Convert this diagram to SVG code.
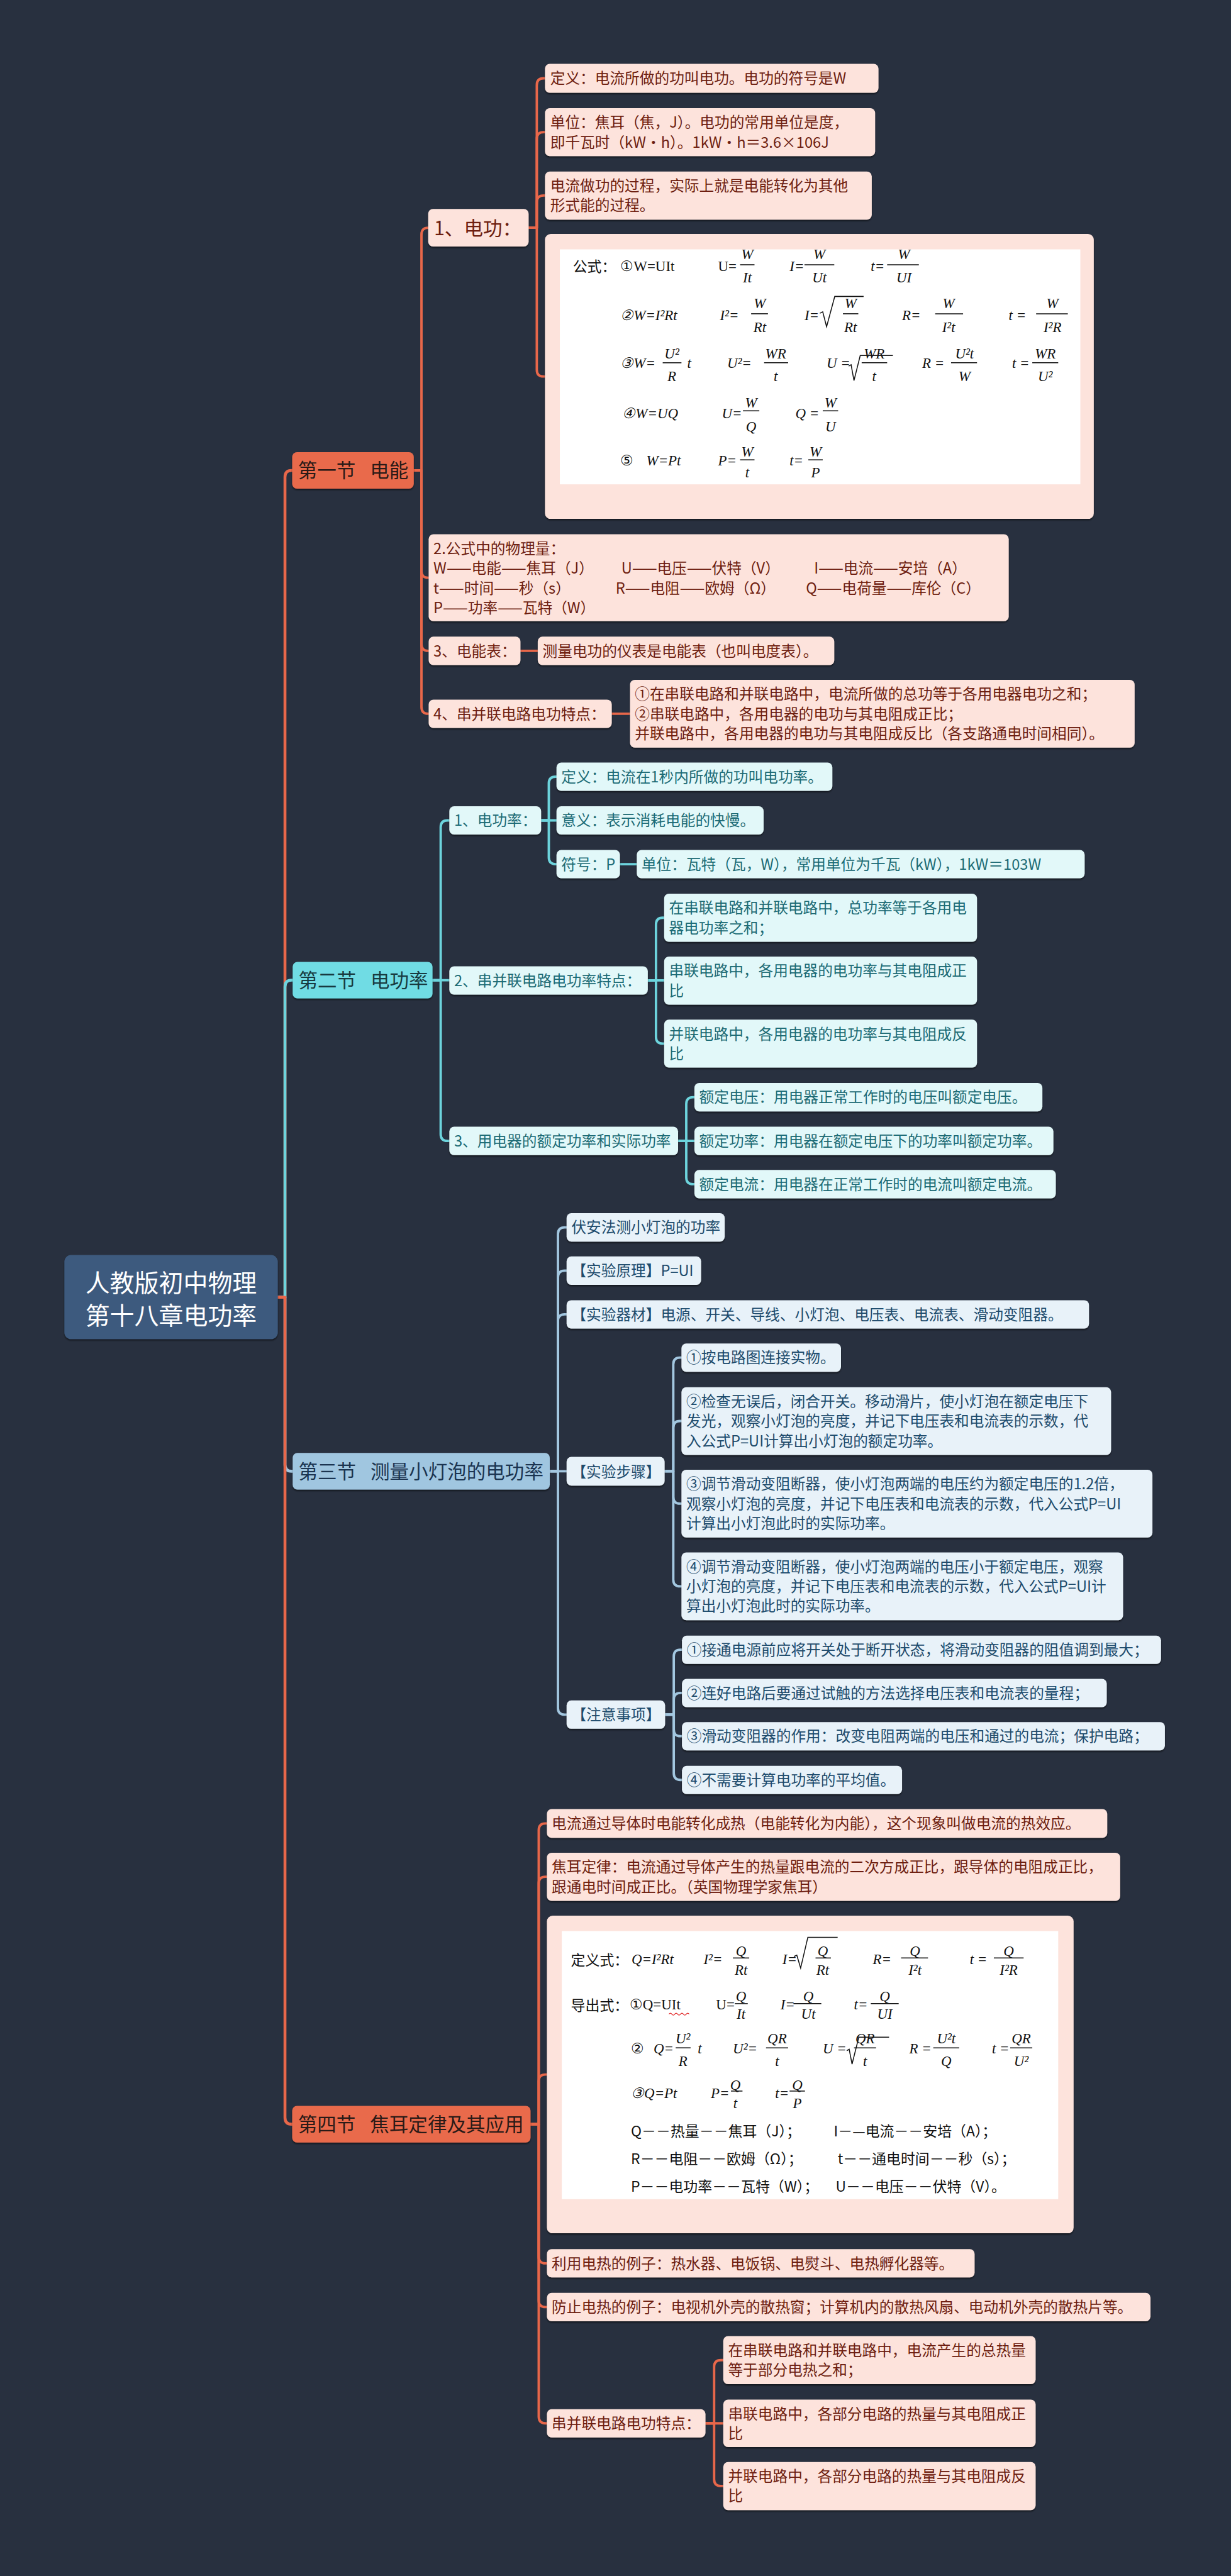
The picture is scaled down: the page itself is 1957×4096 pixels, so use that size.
<svg xmlns="http://www.w3.org/2000/svg" width="1957" height="4096" viewBox="0 0 1957 4096">
<defs>
<filter id="sh" x="-5%" y="-20%" width="110%" height="150%"><feDropShadow dx="0" dy="3" stdDeviation="1.5" flood-color="#000" flood-opacity="0.5"/></filter>
<style>
text{font-family:'Noto Sans CJK SC','Noto Sans',sans-serif}
.t{font-size:31px}
.h{font-size:40px}
.ro{fill:#fde3dc;filter:url(#sh)} .to{fill:#6e1e10}
.rc{fill:#e2f8f9;filter:url(#sh)} .tc{fill:#1c6b75}
.rb{fill:#e8f2f9;filter:url(#sh)} .tb{fill:#1d4b6c}
.rso{fill:#e96a4c;filter:url(#sh)} .tso{fill:#2a1a17}
.rsc{fill:#6fdce4;filter:url(#sh)} .tsc{fill:#183a40}
.rsb{fill:#a0c6e0;filter:url(#sh)} .tsb{fill:#1b3450}
.lo{stroke:#e8674a} .lc{stroke:#6dd4dd} .lb{stroke:#a3c7e0}
#connectors path{fill:none;stroke-width:5;stroke-linecap:round;stroke-linejoin:round}
#connectors path.m{stroke-width:6}
.img{fill:#ffffff}
text.f{font-family:'Liberation Serif',serif;font-size:30px;font-style:italic;fill:#111}
text.fu{font-style:normal}
text.fm{text-anchor:middle}
.fl{stroke:#111;stroke-width:2;fill:none}
text.fc{font-size:30px;fill:#111}
</style>
</defs>
<rect width="1957" height="4096" fill="#28303f"/>
<g transform="scale(0.764)">
<g id="connectors">
<path class="lo m" d="M578 2700 H593 V993 Q593 979 607 979 H609"/>
<path class="lo" d="M861 979 H877 V488 Q877 474 891 474"/>
<path class="lo" d="M861 979 H877 V1188.5 Q877 1202.5 891 1202.5 H892"/>
<path class="lo" d="M861 979 H877 V1340.5 Q877 1354.5 891 1354.5 H892"/>
<path class="lo" d="M861 979 H877 V1471.5 Q877 1485.5 891 1485.5 H892"/>
<path class="lo" d="M1100 474 H1117 V177 Q1117 163 1131 163 H1134"/>
<path class="lo" d="M1100 474 H1117 V289 Q1117 275 1131 275 H1134"/>
<path class="lo" d="M1100 474 H1117 V421 Q1117 407 1131 407 H1134"/>
<path class="lo" d="M1100 474 H1117 V769.5 Q1117 783.5 1131 783.5 H1134"/>
<path class="lo" d="M1083 1354.5 H1119"/>
<path class="lo" d="M1273 1485.5 H1311"/>
<path class="lc m" d="M578 2700 H593 V2054 Q593 2040 607 2040 H609"/>
<path class="lc" d="M900 2040 H917 V1721.5 Q917 1707.5 931 1707.5 H935"/>
<path class="lc" d="M900 2040 H935"/>
<path class="lc" d="M900 2040 H917 V2360.5 Q917 2374.5 931 2374.5 H935"/>
<path class="lc" d="M1126 1707.5 H1142 V1630.5 Q1142 1616.5 1156 1616.5 H1158"/>
<path class="lc" d="M1126 1707.5 H1158"/>
<path class="lc" d="M1126 1707.5 H1142 V1784.5 Q1142 1798.5 1156 1798.5 H1158"/>
<path class="lc" d="M1290 1798.5 H1325"/>
<path class="lc" d="M1348 2040.5 H1365 V1924 Q1365 1910 1379 1910 H1382"/>
<path class="lc" d="M1348 2040.5 H1382"/>
<path class="lc" d="M1348 2040.5 H1365 V2158 Q1365 2172 1379 2172 H1382"/>
<path class="lc" d="M1411 2374.5 H1428 V2297.5 Q1428 2283.5 1442 2283.5 H1445"/>
<path class="lc" d="M1411 2374.5 H1445"/>
<path class="lc" d="M1411 2374.5 H1428 V2450.5 Q1428 2464.5 1442 2464.5 H1445"/>
<path class="lb m" d="M578 2700 H593 V3048 Q593 3062 607 3062 H609"/>
<path class="lb" d="M1144 3062 H1161 V2568.5 Q1161 2554.5 1175 2554.5 H1179"/>
<path class="lb" d="M1144 3062 H1161 V2658.5 Q1161 2644.5 1175 2644.5 H1179"/>
<path class="lb" d="M1144 3062 H1161 V2749.5 Q1161 2735.5 1175 2735.5 H1179"/>
<path class="lb" d="M1144 3062 H1179"/>
<path class="lb" d="M1144 3062 H1161 V3554.5 Q1161 3568.5 1175 3568.5 H1179"/>
<path class="lb" d="M1383 3062 H1401 V2839.5 Q1401 2825.5 1415 2825.5 H1418"/>
<path class="lb" d="M1383 3062 H1401 V2971.5 Q1401 2957.5 1415 2957.5 H1418"/>
<path class="lb" d="M1383 3062 H1401 V3115.5 Q1401 3129.5 1415 3129.5 H1418"/>
<path class="lb" d="M1383 3062 H1401 V3287.5 Q1401 3301.5 1415 3301.5 H1418"/>
<path class="lb" d="M1384 3568.5 H1402 V3447.5 Q1402 3433.5 1416 3433.5 H1419"/>
<path class="lb" d="M1384 3568.5 H1402 V3537.5 Q1402 3523.5 1416 3523.5 H1419"/>
<path class="lb" d="M1384 3568.5 H1402 V3599.5 Q1402 3613.5 1416 3613.5 H1419"/>
<path class="lb" d="M1384 3568.5 H1402 V3690.5 Q1402 3704.5 1416 3704.5 H1419"/>
<path class="lo m" d="M578 2700 H593 V4407 Q593 4421 607 4421 H609"/>
<path class="lo" d="M1104 4421 H1121 V3809 Q1121 3795 1135 3795 H1138"/>
<path class="lo" d="M1104 4421 H1121 V3920 Q1121 3906 1135 3906 H1138"/>
<path class="lo" d="M1104 4421 H1121 V4331.5 Q1121 4317.5 1135 4317.5 H1138"/>
<path class="lo" d="M1104 4421 H1121 V4696.5 Q1121 4710.5 1135 4710.5 H1138"/>
<path class="lo" d="M1104 4421 H1121 V4787.5 Q1121 4801.5 1135 4801.5 H1138"/>
<path class="lo" d="M1104 4421 H1121 V5029.5 Q1121 5043.5 1135 5043.5 H1138"/>
<path class="lo" d="M1468 5043.5 H1486 V4926 Q1486 4912 1500 4912 H1505"/>
<path class="lo" d="M1468 5043.5 H1505"/>
<path class="lo" d="M1468 5043.5 H1486 V5160 Q1486 5174 1500 5174 H1505"/>
</g>

<g id="root"><rect x="134" y="2612" width="444" height="175" rx="14" fill="#3e5a7e" filter="url(#sh)"/><text x="356" y="2689" text-anchor="middle" font-size="51" fill="#fff">人教版初中物理</text><text x="356" y="2757" text-anchor="middle" font-size="51" fill="#fff">第十八章电功率</text></g>

<g id="s1"><rect class="rso" x="608" y="941" width="253" height="76" rx="10"/><text class="tso h" x="620" y="994">第一节<tspan dx="30">电能</tspan></text></g>
<g id="s1_1"><rect class="ro" x="891" y="435" width="209" height="78" rx="10"/><text class="to h" x="903" y="489">1、电功：</text></g>
<g id="s1_1_1"><rect class="ro" x="1134" y="133" width="694" height="60" rx="10"/><text class="to t" x="1145" y="174.5">定义：电流所做的功叫电功。电功的符号是W</text></g>
<g id="s1_1_2"><rect class="ro" x="1134" y="225" width="687" height="100" rx="10"/><text class="to t" x="1145" y="266">单位：焦耳（焦，J）。电功的常用单位是度，<tspan x="1145" dy="41">即千瓦时（kW·h）。1kW·h＝3.6×106J</tspan></text></g>
<g id="s1_1_3"><rect class="ro" x="1134" y="357" width="680" height="100" rx="10"/><text class="to t" x="1145" y="398">电流做功的过程，实际上就是电能转化为其他<tspan x="1145" dy="41">形式能的过程。</tspan></text></g>
<g id="s1_1_4"><rect class="ro" x="1134" y="487" width="1142" height="593" rx="12"/><rect class="img" x="1165" y="519" width="1083" height="489"/>
<text class="fc" x="1192" y="566">公式：</text>
<text class="f fu" x="1291" y="564">①W=UIt</text>
<text class="f fu" x="1494" y="564">U=</text><text class="f fm" x="1555" y="539">W</text><line class="fl" x1="1540" y1="551" x2="1570" y2="551"/><text class="f fm" x="1555" y="588">It</text>
<text class="f" x="1643" y="564">I=</text><text class="f fm" x="1705" y="539">W</text><line class="fl" x1="1674" y1="551" x2="1736" y2="551"/><text class="f fm" x="1705" y="588">Ut</text>
<text class="f" x="1812" y="564">t=</text><text class="f fm" x="1881" y="539">W</text><line class="fl" x1="1846" y1="551" x2="1912" y2="551"/><text class="f fm" x="1881" y="588">UI</text>
<text class="f" x="1291" y="666">②W=I²Rt</text>
<text class="f" x="1498" y="666">I²=</text><text class="f fm" x="1581" y="642">W</text><line class="fl" x1="1563" y1="653" x2="1598" y2="653"/><text class="f fm" x="1581" y="691">Rt</text>
<text class="f" x="1674" y="666">I=</text><path class="fl" d="M1706 652 L1712 649 L1720 680 L1737 617 H1797"/><text class="f fm" x="1770" y="642">W</text><line class="fl" x1="1754" y1="653" x2="1786" y2="653"/><text class="f fm" x="1770" y="691">Rt</text>
<text class="f" x="1877" y="666">R=</text><text class="f fm" x="1974" y="642">W</text><line class="fl" x1="1946" y1="653" x2="2004" y2="653"/><text class="f fm" x="1974" y="691">I²t</text>
<text class="f" x="2099" y="666">t =</text><text class="f fm" x="2190" y="642">W</text><line class="fl" x1="2156" y1="653" x2="2222" y2="653"/><text class="f fm" x="2190" y="691">I²R</text>
<text class="f" x="1291" y="766">③W=</text><text class="f fm" x="1398" y="746">U²</text><line class="fl" x1="1379" y1="755" x2="1418" y2="755"/><text class="f fm" x="1398" y="793">R</text><text class="f" x="1430" y="766">t</text>
<text class="f" x="1513" y="766">U²=</text><text class="f fm" x="1614" y="746">WR</text><line class="fl" x1="1590" y1="755" x2="1640" y2="755"/><text class="f fm" x="1614" y="793">t</text>
<text class="f" x="1720" y="766">U =</text><path class="fl" d="M1766 762 L1771 759 L1777 792 L1790 740 H1858"/><text class="f fm" x="1819" y="746">WR</text><line class="fl" x1="1793" y1="755" x2="1846" y2="755"/><text class="f fm" x="1819" y="793">t</text>
<text class="f" x="1919" y="766">R =</text><text class="f fm" x="2007" y="746">U²t</text><line class="fl" x1="1979" y1="755" x2="2033" y2="755"/><text class="f fm" x="2007" y="793">W</text>
<text class="f" x="2106" y="766">t =</text><text class="f fm" x="2175" y="746">WR</text><line class="fl" x1="2148" y1="755" x2="2202" y2="755"/><text class="f fm" x="2175" y="793">U²</text>
<text class="f" x="1295" y="870">④W=UQ</text>
<text class="f" x="1502" y="870">U=</text><text class="f fm" x="1563" y="848">W</text><line class="fl" x1="1546" y1="855" x2="1580" y2="855"/><text class="f fm" x="1563" y="898">Q</text>
<text class="f" x="1655" y="870">Q =</text><text class="f fm" x="1728" y="848">W</text><line class="fl" x1="1712" y1="855" x2="1744" y2="855"/><text class="f fm" x="1728" y="898">U</text>
<text class="f fu" x="1291" y="968">⑤</text><text class="f" x="1345" y="968">W=Pt</text>
<text class="f" x="1494" y="968">P=</text><text class="f fm" x="1555" y="950">W</text><line class="fl" x1="1540" y1="957" x2="1570" y2="957"/><text class="f fm" x="1555" y="993">t</text>
<text class="f" x="1643" y="968">t=</text><text class="f fm" x="1697" y="950">W</text><line class="fl" x1="1682" y1="957" x2="1712" y2="957"/><text class="f fm" x="1697" y="993">P</text>
</g>
<g id="s1_2"><rect class="ro" x="892" y="1112" width="1207" height="181" rx="10"/><text class="to t" x="902" y="1153">2.公式中的物理量：</text><text class="to t" y="1194"><tspan x="902">W——电能——焦耳（J）</tspan><tspan x="1293">U——电压——伏特（V）</tspan><tspan x="1694">I——电流——安培（A）</tspan></text><text class="to t" y="1235"><tspan x="902">t——时间——秒（s）</tspan><tspan x="1281">R——电阻——欧姆（Ω）</tspan><tspan x="1677">Q——电荷量——库伦（C）</tspan></text><text class="to t" x="902" y="1276">P——功率——瓦特（W）</text></g>
<g id="s1_3"><rect class="ro" x="892" y="1325" width="191" height="59" rx="10"/><text class="to t" x="902" y="1366">3、电能表：</text></g>
<g id="s1_3_1"><rect class="ro" x="1119" y="1325" width="617" height="59" rx="10"/><text class="to t" x="1129" y="1366">测量电功的仪表是电能表（也叫电度表）。</text></g>
<g id="s1_4"><rect class="ro" x="892" y="1456" width="381" height="59" rx="10"/><text class="to t" x="902" y="1497">4、串并联电路电功特点：</text></g>
<g id="s1_4_1"><rect class="ro" x="1311" y="1415" width="1050" height="141" rx="10"/><text class="to t" x="1321" y="1456">①在串联电路和并联电路中，电流所做的总功等于各用电器电功之和；<tspan x="1321" dy="41">②串联电路中，各用电器的电功与其电阻成正比；</tspan><tspan x="1321" dy="41">并联电路中，各用电器的电功与其电阻成反比（各支路通电时间相同）。</tspan></text></g>

<g id="s2"><rect class="rsc" x="609" y="2002" width="291" height="76" rx="10"/><text class="tsc h" x="621" y="2055">第二节<tspan dx="30">电功率</tspan></text></g>
<g id="s2_1"><rect class="rc" x="935" y="1678" width="191" height="59" rx="10"/><text class="tc t" x="945" y="1719">1、电功率：</text></g>
<g id="s2_1_1"><rect class="rc" x="1158" y="1587" width="574" height="59" rx="10"/><text class="tc t" x="1168" y="1628">定义：电流在1秒内所做的功叫电功率。</text></g>
<g id="s2_1_2"><rect class="rc" x="1158" y="1678" width="431" height="59" rx="10"/><text class="tc t" x="1168" y="1719">意义：表示消耗电能的快慢。</text></g>
<g id="s2_1_3"><rect class="rc" x="1158" y="1769" width="132" height="59" rx="10"/><text class="tc t" x="1168" y="1810">符号：P</text></g>
<g id="s2_1_3_1"><rect class="rc" x="1325" y="1769" width="932" height="59" rx="10"/><text class="tc t" x="1335" y="1810">单位：瓦特（瓦，W），常用单位为千瓦（kW），1kW＝103W</text></g>
<g id="s2_2"><rect class="rc" x="935" y="2011" width="413" height="59" rx="10"/><text class="tc t" x="945" y="2052">2、串并联电路电功率特点：</text></g>
<g id="s2_2_1"><rect class="rc" x="1382" y="1860" width="651" height="100" rx="10"/><text class="tc t" x="1392" y="1901">在串联电路和并联电路中，总功率等于各用电<tspan x="1392" dy="41">器电功率之和；</tspan></text></g>
<g id="s2_2_2"><rect class="rc" x="1382" y="1991" width="651" height="100" rx="10"/><text class="tc t" x="1392" y="2032">串联电路中，各用电器的电功率与其电阻成正<tspan x="1392" dy="41">比</tspan></text></g>
<g id="s2_2_3"><rect class="rc" x="1382" y="2122" width="651" height="100" rx="10"/><text class="tc t" x="1392" y="2163">并联电路中，各用电器的电功率与其电阻成反<tspan x="1392" dy="41">比</tspan></text></g>
<g id="s2_3"><rect class="rc" x="935" y="2345" width="476" height="59" rx="10"/><text class="tc t" x="945" y="2386">3、用电器的额定功率和实际功率</text></g>
<g id="s2_3_1"><rect class="rc" x="1445" y="2254" width="724" height="59" rx="10"/><text class="tc t" x="1455" y="2295">额定电压：用电器正常工作时的电压叫额定电压。</text></g>
<g id="s2_3_2"><rect class="rc" x="1445" y="2345" width="747" height="59" rx="10"/><text class="tc t" x="1455" y="2386">额定功率：用电器在额定电压下的功率叫额定功率。</text></g>
<g id="s2_3_3"><rect class="rc" x="1445" y="2435" width="752" height="59" rx="10"/><text class="tc t" x="1455" y="2476">额定电流：用电器在正常工作时的电流叫额定电流。</text></g>

<g id="s3"><rect class="rsb" x="609" y="3024" width="535" height="76" rx="10"/><text class="tsb h" x="621" y="3077">第三节<tspan dx="30">测量小灯泡的电功率</tspan></text></g>
<g id="s3_1"><rect class="rb" x="1179" y="2525" width="329" height="59" rx="10"/><text class="tb t" x="1189" y="2566">伏安法测小灯泡的功率</text></g>
<g id="s3_2"><rect class="rb" x="1179" y="2615" width="280" height="59" rx="10"/><text class="tb t" x="1189" y="2656">【实验原理】P=UI</text></g>
<g id="s3_3"><rect class="rb" x="1179" y="2706" width="1087" height="59" rx="10"/><text class="tb t" x="1189" y="2747">【实验器材】电源、开关、导线、小灯泡、电压表、电流表、滑动变阻器。</text></g>
<g id="s3_4"><rect class="rb" x="1179" y="3032" width="204" height="60" rx="10"/><text class="tb t" x="1189" y="3074">【实验步骤】</text></g>
<g id="s3_4_1"><rect class="rb" x="1418" y="2796" width="332" height="59" rx="10"/><text class="tb t" x="1428" y="2837">①按电路图连接实物。</text></g>
<g id="s3_4_2"><rect class="rb" x="1418" y="2887" width="894" height="141" rx="10"/><text class="tb t" x="1428" y="2928">②检查无误后，闭合开关。移动滑片，使小灯泡在额定电压下<tspan x="1428" dy="41">发光，观察小灯泡的亮度，并记下电压表和电流表的示数，代</tspan><tspan x="1428" dy="41">入公式P=UI计算出小灯泡的额定功率。</tspan></text></g>
<g id="s3_4_3"><rect class="rb" x="1418" y="3059" width="980" height="141" rx="10"/><text class="tb t" x="1428" y="3100">③调节滑动变阻断器，使小灯泡两端的电压约为额定电压的1.2倍，<tspan x="1428" dy="41">观察小灯泡的亮度，并记下电压表和电流表的示数，代入公式P=UI</tspan><tspan x="1428" dy="41">计算出小灯泡此时的实际功率。</tspan></text></g>
<g id="s3_4_4"><rect class="rb" x="1418" y="3231" width="919" height="141" rx="10"/><text class="tb t" x="1428" y="3272">④调节滑动变阻断器，使小灯泡两端的电压小于额定电压，观察<tspan x="1428" dy="41">小灯泡的亮度，并记下电压表和电流表的示数，代入公式P=UI计</tspan><tspan x="1428" dy="41">算出小灯泡此时的实际功率。</tspan></text></g>
<g id="s3_5"><rect class="rb" x="1179" y="3539" width="205" height="59" rx="10"/><text class="tb t" x="1189" y="3580">【注意事项】</text></g>
<g id="s3_5_1"><rect class="rb" x="1419" y="3404" width="997" height="59" rx="10"/><text class="tb t" x="1429" y="3445">①接通电源前应将开关处于断开状态，将滑动变阻器的阻值调到最大；</text></g>
<g id="s3_5_2"><rect class="rb" x="1419" y="3494" width="884" height="59" rx="10"/><text class="tb t" x="1429" y="3535">②连好电路后要通过试触的方法选择电压表和电流表的量程；</text></g>
<g id="s3_5_3"><rect class="rb" x="1419" y="3584" width="1005" height="59" rx="10"/><text class="tb t" x="1429" y="3625">③滑动变阻器的作用：改变电阻两端的电压和通过的电流；保护电路；</text></g>
<g id="s3_5_4"><rect class="rb" x="1419" y="3675" width="458" height="59" rx="10"/><text class="tb t" x="1429" y="3716">④不需要计算电功率的平均值。</text></g>

<g id="s4"><rect class="rso" x="608" y="4383" width="496" height="76" rx="10"/><text class="tso h" x="620" y="4436">第四节<tspan dx="30">焦耳定律及其应用</tspan></text></g>
<g id="s4_1"><rect class="ro" x="1138" y="3765" width="1166" height="60" rx="10"/><text class="to t" x="1148" y="3806.5">电流通过导体时电能转化成热（电能转化为内能），这个现象叫做电流的热效应。</text></g>
<g id="s4_2"><rect class="ro" x="1138" y="3856" width="1193" height="100" rx="10"/><text class="to t" x="1148" y="3897">焦耳定律：电流通过导体产生的热量跟电流的二次方成正比，跟导体的电阻成正比，<tspan x="1148" dy="41">跟通电时间成正比。（英国物理学家焦耳）</tspan></text></g>
<g id="s4_3"><rect class="ro" x="1138" y="3987" width="1096" height="661" rx="12"/><rect class="img" x="1169" y="4019" width="1033" height="558"/>
<text class="fc" x="1188" y="4090">定义式：</text>
<text class="f" x="1314" y="4088">Q=I²Rt</text>
<text class="f" x="1464" y="4088">I²=</text><text class="f fm" x="1542" y="4071">Q</text><line class="fl" x1="1525" y1="4075" x2="1559" y2="4075"/><text class="f fm" x="1542" y="4110">Rt</text>
<text class="f" x="1628" y="4088">I=</text><path class="fl" d="M1652 4072 L1658 4069 L1666 4096 L1681 4032 H1743"/><text class="f fm" x="1712" y="4071">Q</text><line class="fl" x1="1697" y1="4075" x2="1729" y2="4075"/><text class="f fm" x="1712" y="4110">Rt</text>
<text class="f" x="1816" y="4088">R=</text><text class="f fm" x="1904" y="4071">Q</text><line class="fl" x1="1875" y1="4075" x2="1931" y2="4075"/><text class="f fm" x="1904" y="4110">I²t</text>
<text class="f" x="2018" y="4088">t =</text><text class="f fm" x="2099" y="4071">Q</text><line class="fl" x1="2068" y1="4075" x2="2130" y2="4075"/><text class="f fm" x="2099" y="4110">I²R</text>
<text class="fc" x="1188" y="4184">导出式：</text>
<text class="f fu" x="1310" y="4182">①Q=UIt</text><path d="M1392 4192 q3 -4 6 0 t6 0 t6 0 t6 0 t6 0 t6 0 t6 0" fill="none" stroke="#e02020" stroke-width="1.5"/>
<text class="f fu" x="1490" y="4182">U=</text><text class="f fm" x="1542" y="4165">Q</text><line class="fl" x1="1529" y1="4170" x2="1556" y2="4170"/><text class="f fm" x="1542" y="4202">It</text>
<text class="f" x="1624" y="4182">I=</text><text class="f fm" x="1682" y="4165">Q</text><line class="fl" x1="1651" y1="4170" x2="1709" y2="4170"/><text class="f fm" x="1682" y="4202">Ut</text>
<text class="f" x="1777" y="4182">t=</text><text class="f fm" x="1841" y="4165">Q</text><line class="fl" x1="1812" y1="4170" x2="1870" y2="4170"/><text class="f fm" x="1841" y="4202">UI</text>
<text class="f fu" x="1313" y="4274">②</text><text class="f" x="1360" y="4274">Q=</text><text class="f fm" x="1421" y="4253">U²</text><line class="fl" x1="1406" y1="4262" x2="1437" y2="4262"/><text class="f fm" x="1421" y="4300">R</text><text class="f" x="1452" y="4274">t</text>
<text class="f" x="1525" y="4274">U²=</text><text class="f fm" x="1617" y="4253">QR</text><line class="fl" x1="1594" y1="4262" x2="1640" y2="4262"/><text class="f fm" x="1617" y="4300">t</text>
<text class="f" x="1712" y="4274">U =</text><path class="fl" d="M1762 4268 L1767 4265 L1773 4296 L1787 4240 H1850"/><text class="f fm" x="1800" y="4253">QR</text><line class="fl" x1="1777" y1="4262" x2="1823" y2="4262"/><text class="f fm" x="1800" y="4300">t</text>
<text class="f" x="1892" y="4274">R =</text><text class="f fm" x="1969" y="4253">U²t</text><line class="fl" x1="1942" y1="4262" x2="1996" y2="4262"/><text class="f fm" x="1969" y="4300">Q</text>
<text class="f" x="2064" y="4274">t =</text><text class="f fm" x="2125" y="4253">QR</text><line class="fl" x1="2102" y1="4262" x2="2148" y2="4262"/><text class="f fm" x="2125" y="4300">U²</text>
<text class="f" x="1313" y="4366">③Q=Pt</text>
<text class="f" x="1479" y="4366">P=</text><text class="f fm" x="1530" y="4349">Q</text><line class="fl" x1="1521" y1="4352" x2="1545" y2="4352"/><text class="f fm" x="1530" y="4388">t</text>
<text class="f" x="1613" y="4366">t=</text><text class="f fm" x="1659" y="4349">Q</text><line class="fl" x1="1643" y1="4352" x2="1675" y2="4352"/><text class="f fm" x="1659" y="4388">P</text>
<text class="fc" x="1313" y="4447">Q－－热量－－焦耳（J）；</text><text class="fc" x="1735" y="4447">I－—电流－－安培（A）；</text>
<text class="fc" x="1313" y="4504">R－－电阻－－欧姆（Ω）；</text><text class="fc" x="1743" y="4504">t－－通电时间－－秒（s）；</text>
<text class="fc" x="1313" y="4562">P－－电功率－－瓦特（W）；</text><text class="fc" x="1739" y="4562">U－－电压－－伏特（V）。</text>
</g>
<g id="s4_4"><rect class="ro" x="1138" y="4681" width="890" height="59" rx="10"/><text class="to t" x="1148" y="4722">利用电热的例子：热水器、电饭锅、电熨斗、电热孵化器等。</text></g>
<g id="s4_5"><rect class="ro" x="1138" y="4772" width="1256" height="59" rx="10"/><text class="to t" x="1148" y="4813">防止电热的例子：电视机外壳的散热窗；计算机内的散热风扇、电动机外壳的散热片等。</text></g>
<g id="s4_6"><rect class="ro" x="1138" y="5014" width="330" height="59" rx="10"/><text class="to t" x="1148" y="5055">串并联电路电功特点：</text></g>
<g id="s4_6_1"><rect class="ro" x="1505" y="4862" width="650" height="100" rx="10"/><text class="to t" x="1515" y="4903">在串联电路和并联电路中，电流产生的总热量<tspan x="1515" dy="41">等于部分电热之和；</tspan></text></g>
<g id="s4_6_2"><rect class="ro" x="1505" y="4994" width="650" height="99" rx="10"/><text class="to t" x="1515" y="5035">串联电路中，各部分电路的热量与其电阻成正<tspan x="1515" dy="41">比</tspan></text></g>
<g id="s4_6_3"><rect class="ro" x="1505" y="5124" width="650" height="100" rx="10"/><text class="to t" x="1515" y="5165">并联电路中，各部分电路的热量与其电阻成反<tspan x="1515" dy="41">比</tspan></text></g>
</g>
</svg>
